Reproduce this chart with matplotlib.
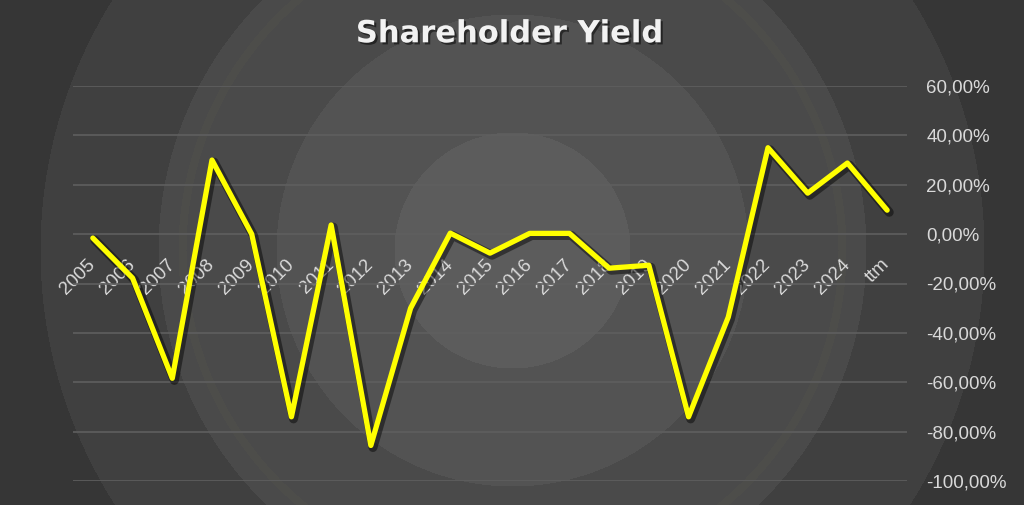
import numpy as np
import matplotlib
matplotlib.use("Agg")
import matplotlib.pyplot as plt
import matplotlib.patheffects as pe
from matplotlib.ticker import FuncFormatter


YEARS = ["2005", "2006", "2007", "2008", "2009", "2010", "2011", "2012", "2013",
         "2014", "2015", "2016", "2017", "2018", "2019", "2020", "2021", "2022",
         "2023", "2024", "ttm"]
YIELD_PCT = [-1.6, -17.8, -58.4, 30.0, 0.0, -74.0, 3.7, -85.6, -30.0,
             0.4, -7.7, 0.3, 0.3, -13.8, -12.6, -74.0, -33.6, 35.0,
             16.6, 28.8, 9.7]
Y_TICKS = [60, 40, 20, 0, -20, -40, -60, -80, -100]

COL_LINE = "#ffff00"
COL_TEXT = "#d9d9d9"
COL_GRID = "#5f5f5f"

W, H = 1024, 505
fig = plt.figure(figsize=(W / 100, H / 100), dpi=100)

# stepped radial background
bg = fig.add_axes([0, 0, 1, 1])
yy, xx = np.mgrid[0:H, 0:W]
r = np.hypot(xx - 512, yy - 250)
ring_cols = np.array([0x5c, 0x53, 0x4a, 0x40, 0x36, 0x2e, 0x2a]) / 255.0
lvl = np.clip((r / 118).astype(int), 0, len(ring_cols) - 1)
img = ring_cols[lvl]
rgb = np.dstack([img, img, img])
# faint olive ring
mask = np.abs(r - 330) < 4
rgb[mask] = rgb[mask] + np.array([0.015, 0.015, 0.0])
bg.imshow(rgb, extent=[0, 1, 0, 1], aspect="auto", origin="upper")
bg.set_axis_off()

ax = fig.add_axes([73 / W, 24 / H, (907 - 73) / W, (481 - 86) / H])
ax.set_facecolor("none")

x = np.arange(len(YEARS))
ax.plot(
    x, YIELD_PCT, color=COL_LINE, lw=3.8, solid_joinstyle="round",
    solid_capstyle="round", zorder=3,
    path_effects=[pe.SimpleLineShadow(offset=(1.5, -1.5), shadow_color="black",
                                      alpha=0.45, linewidth=6.5),
                  pe.Normal()],
)

ax.set_xlim(-0.5, len(YEARS) - 0.5)
ax.set_ylim(-100, 60)
ax.set_yticks(Y_TICKS)
ax.yaxis.tick_right()
ax.yaxis.set_major_formatter(FuncFormatter(lambda v, p: f"{v:.2f}%".replace(".", ",")))
ax.tick_params(axis="y", length=0, pad=14, labelsize=13.5, labelcolor=COL_TEXT)
for lab in ax.get_yticklabels():
    lab.set_fontfamily("Liberation Sans")

ax.grid(True, axis="y", color=COL_GRID, lw=1.2, zorder=0)
for s in ax.spines.values():
    s.set_visible(False)
ax.spines["bottom"].set_position(("data", 0))

ax.set_xticks(x)
ax.set_xticklabels(YEARS, rotation=45, ha="right", va="center",
                   rotation_mode="anchor", fontfamily="Liberation Sans",
                   fontsize=13.5, color=COL_TEXT)
ax.tick_params(axis="x", length=0, pad=20)
for lab in ax.get_xticklabels():
    lab.set_zorder(4)

fig.text(0.497, 0.933, "Shareholder Yield", ha="center", va="center",
         fontsize=22, fontweight="bold", color="#f2f2f2",
         path_effects=[pe.withSimplePatchShadow(offset=(1.5, -1.5),
                                                shadow_rgbFace="black", alpha=0.5)])

fig.savefig("out.png", dpi=100)
